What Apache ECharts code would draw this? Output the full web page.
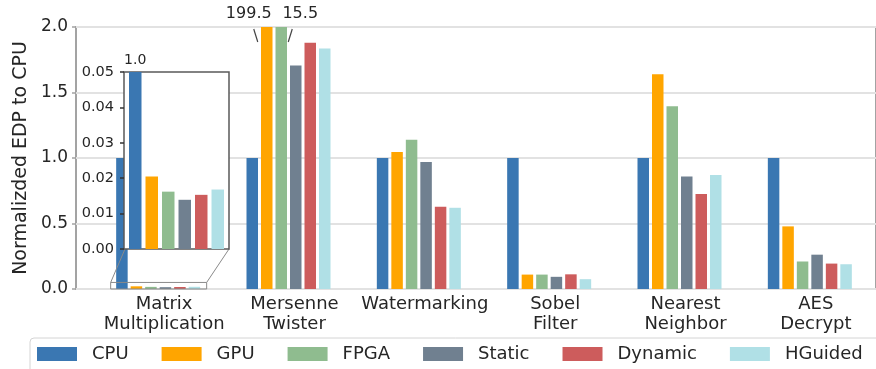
<!DOCTYPE html>
<html>
<head>
<meta charset="utf-8">
<script src="https://cdn.jsdelivr.net/npm/echarts@6/dist/echarts.min.js"></script>
<style>
  html, body { margin: 0; padding: 0; background: #fff; }
  #chart { width: 876px; height: 369px; }
</style>
</head>
<body>
<div id="chart"></div>
<script>
// Benchmarks on the x axis
const categories = ['Matrix\nMultiplication', 'Mersenne\nTwister', 'Watermarking', 'Sobel\nFilter', 'Nearest\nNeighbor', 'AES\nDecrypt'];

// Scheduling configurations
const seriesNames = ['CPU', 'GPU', 'FPGA', 'Static', 'Dynamic', 'HGuided'];

// Normalized EDP per benchmark (CPU = 1.0)
const cpuValues      = [1.0,    1.0,   1.0,   1.0,   1.0,   1.0];
const gpuValues      = [0.0205, 199.5, 1.046, 0.110, 1.640, 0.478];
const fpgaValues     = [0.0162, 15.5,  1.140, 0.110, 1.395, 0.210];
const staticValues   = [0.0139, 1.707, 0.970, 0.093, 0.858, 0.262];
const dynamicValues  = [0.0153, 1.880, 0.627, 0.112, 0.726, 0.194];
const hguidedValues  = [0.0168, 1.836, 0.620, 0.075, 0.870, 0.189];

// Axis ticks
const mainTicks  = [0.0, 0.5, 1.0, 1.5, 2.0];
const insetTicks = [0.00, 0.01, 0.02, 0.03, 0.04, 0.05];

const allValues = [cpuValues, gpuValues, fpgaValues, staticValues, dynamicValues, hguidedValues];
const colors = ['#3a77b2', '#ffa500', '#8fbc8f', '#708090', '#cd5c5c', '#b0e0e6'];

const FONT = 'DejaVu Sans';
const TXT = '#262626';
const SPINE = '#a3a3a3';

// pixel layout
const MAIN = { left: 76, top: 27, bottom: 80 };
const INSET = { left: 124, top: 72, width: 105, height: 177 };
const BAR_W = 11.5, BAR_GAP = 3;
const IN_BAR_W = 12.5, IN_BAR_GAP = 4;

const chart = echarts.init(document.getElementById('chart'), null, { renderer: 'canvas' });

const mainSeries = seriesNames.map((name, i) => ({
  name: name,
  type: 'bar',
  xAxisIndex: 0,
  yAxisIndex: 0,
  data: allValues[i],
  barWidth: BAR_W,
  barGap: (BAR_GAP / BAR_W * 100) + '%',
  itemStyle: { color: colors[i] },
  clip: true,
  z: 2
}));

const insetSeries = seriesNames.map((name, i) => ({
  name: name,
  type: 'bar',
  xAxisIndex: 2,
  yAxisIndex: 2,
  data: [allValues[i][0]],
  barWidth: IN_BAR_W,
  barGap: (IN_BAR_GAP / IN_BAR_W * 100) + '%',
  itemStyle: { color: colors[i] },
  clip: true,
  z: 6
}));

const option = {
  animation: false,
  backgroundColor: '#ffffff',
  textStyle: { fontFamily: FONT },
  grid: [
    // bars
    { left: 93, right: 1, top: MAIN.top, bottom: MAIN.bottom },
    // frame, y axis, gridlines
    { left: MAIN.left, right: -6, top: MAIN.top, bottom: MAIN.bottom, show: true,
      borderColor: SPINE, borderWidth: 2, backgroundColor: 'transparent' },
    // inset
    { left: INSET.left, top: INSET.top, width: INSET.width, height: INSET.height, show: true,
      borderColor: '#5a5a5a', borderWidth: 1.5, backgroundColor: '#ffffff', z: 5 }
  ],
  xAxis: [
    { type: 'category', gridIndex: 0, data: categories,
      axisLine: { show: false }, axisTick: { show: false },
      axisLabel: { color: TXT, fontSize: 18, lineHeight: 20, margin: 5, fontFamily: FONT,
                   interval: 0, padding: [0, 0, 0, 12] } },
    { type: 'value', gridIndex: 1, show: false },
    { type: 'category', gridIndex: 2, data: [categories[0]], show: false, z: 6 }
  ],
  yAxis: [
    { type: 'value', gridIndex: 0, min: mainTicks[0], max: mainTicks[mainTicks.length - 1],
      interval: 0.5, show: false },
    { type: 'value', gridIndex: 1, min: mainTicks[0], max: mainTicks[mainTicks.length - 1],
      interval: mainTicks[1] - mainTicks[0],
      name: 'Normalizded EDP to CPU', nameLocation: 'middle', nameGap: 41,
      nameTextStyle: { color: TXT, fontSize: 19, fontFamily: FONT },
      axisLine: { show: false },
      axisTick: { show: true, length: 4, lineStyle: { color: SPINE, width: 1.5 } },
      axisLabel: { color: TXT, fontSize: 17, margin: 8, fontFamily: FONT,
                   formatter: v => v.toFixed(1) },
      splitLine: { show: true, lineStyle: { color: '#e2e2e2', width: 2 } } },
    { type: 'value', gridIndex: 2, min: insetTicks[0], max: insetTicks[insetTicks.length - 1],
      interval: insetTicks[1] - insetTicks[0], z: 6,
      axisLine: { show: false },
      axisTick: { show: true, length: 4, lineStyle: { color: '#333', width: 1.5 } },
      axisLabel: { color: TXT, fontSize: 14.5, margin: 10, fontFamily: FONT,
                   formatter: v => v.toFixed(2) },
      splitLine: { show: false } }
  ],
  legend: {
    data: seriesNames,
    left: 30, top: 338, width: 1200,
    orient: 'horizontal',
    icon: 'rect',
    itemWidth: 40, itemHeight: 14, itemGap: 33,
    padding: [7, 60, 14, 7],
    borderColor: '#d4d4d4', borderWidth: 1, borderRadius: 4,
    textStyle: { color: TXT, fontSize: 18, fontFamily: FONT, padding: [0, 0, 0, 10] }
  },
  series: mainSeries.concat(insetSeries)
};

chart.setOption(option);

// Annotations drawn from the axes' own pixel mapping
const pitch = BAR_W + BAR_GAP;
const inPitch = IN_BAR_W + IN_BAR_GAP;
const mt = chart.convertToPixel({ xAxisIndex: 0, yAxisIndex: 0 }, [1, mainTicks[mainTicks.length - 1]]);
const gpuX = mt[0] - 1.5 * pitch;
const fpgaX = mt[0] - 0.5 * pitch;
const topY = mt[1];

const mmCenter = chart.convertToPixel({ xAxisIndex: 0, yAxisIndex: 0 }, [0, insetTicks[insetTicks.length - 1]]);
const mmBase = chart.convertToPixel({ xAxisIndex: 0, yAxisIndex: 0 }, [0, 0]);
const groupHalf = 3 * pitch;
const zx0 = mmCenter[0] - groupHalf - 4, zx1 = mmCenter[0] + groupHalf + 5;
const zy0 = mmCenter[1], zy1 = mmBase[1];

const inCpu = chart.convertToPixel({ xAxisIndex: 2, yAxisIndex: 2 }, [0, insetTicks[insetTicks.length - 1]]);
const inCpuX = inCpu[0] - 2.5 * inPitch;

const lineStyle = { stroke: '#444', lineWidth: 1.2 };
chart.setOption({
  graphic: [
    { type: 'text', z: 10, x: gpuX - 18, y: topY - 13,
      style: { text: String(gpuValues[1]), fill: TXT, font: '16px "' + FONT + '"', align: 'center', verticalAlign: 'middle' } },
    { type: 'text', z: 10, x: fpgaX + 19, y: topY - 13,
      style: { text: String(fpgaValues[1]), fill: TXT, font: '16px "' + FONT + '"', align: 'center', verticalAlign: 'middle' } },
    { type: 'line', z: 10, shape: { x1: gpuX - 13, y1: topY + 2, x2: gpuX - 9, y2: topY + 15 }, style: lineStyle },
    { type: 'line', z: 10, shape: { x1: fpgaX + 11, y1: topY + 2, x2: fpgaX + 7, y2: topY + 15 }, style: lineStyle },
    // zoomed region marker and connectors
    { type: 'rect', z: 4, shape: { x: zx0, y: zy0, width: zx1 - zx0, height: zy1 - zy0 },
      style: { fill: 'none', stroke: '#8a8a8a', lineWidth: 1 } },
    { type: 'line', z: 4, shape: { x1: zx0, y1: zy0, x2: INSET.left + 1, y2: INSET.top + INSET.height },
      style: { stroke: '#8a8a8a', lineWidth: 1 } },
    { type: 'line', z: 4, shape: { x1: zx1, y1: zy0, x2: INSET.left + INSET.width, y2: INSET.top + INSET.height },
      style: { stroke: '#8a8a8a', lineWidth: 1 } },
    { type: 'text', z: 10, x: inCpuX, y: INSET.top - 12,
      style: { text: cpuValues[0].toFixed(1), fill: TXT, font: '14px "' + FONT + '"', align: 'center', verticalAlign: 'middle' } }
  ]
});
</script>
</body>
</html>
